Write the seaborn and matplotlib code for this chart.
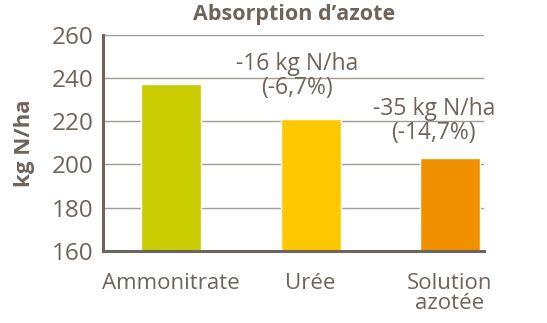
import matplotlib
matplotlib.use("Agg")
import matplotlib.pyplot as plt
import seaborn as sns
import pandas as pd

categories = ["Ammonitrate", "Urée", "Solution\nazotée"]
values = [237, 221, 203]
colors = ["#c8cc00", "#fec800", "#f29100"]
annotations = ["", "-16 kg N/ha\n(-6,7%)", "-35 kg N/ha\n(-14,7%)"]
yticks = [160, 180, 200, 220, 240, 260]

sns.set_theme(style="white")
plt.rcParams["font.family"] = ["Open Sans", "DejaVu Sans"]

txt = "#6e645b"
fig = plt.figure(figsize=(5.47, 3.23), dpi=100)
ax = fig.add_axes([0.1883, 0.2229, 0.6965, 0.6697])

df = pd.DataFrame({"cat": categories, "val": values})
sns.barplot(data=df, x="cat", y="val", hue="cat", palette=colors, legend=False,
            width=0.43, ax=ax, saturation=1)

ax.set_ylim(160, 260)
ax.set_xlim(-0.49, 2.245)
ax.set_yticks(yticks)
ax.set_yticklabels([str(t) for t in yticks], fontsize=17.5, color=txt)
ax.tick_params(axis="x", labelsize=16, colors=txt, length=0, pad=16)
ax.tick_params(axis="y", length=0, pad=7)
for lbl in ax.get_xticklabels():
    lbl.set_linespacing(0.9)
ax.yaxis.grid(True, color="#a39c95", linewidth=1.0)
ax.set_axisbelow(True)
for s in ["top", "right"]:
    ax.spines[s].set_visible(False)
for s in ["left", "bottom"]:
    ax.spines[s].set_color("#6e645b")
    ax.spines[s].set_linewidth(2.2)

ax.set_xlabel("")
ax.set_ylabel("kg N/ha", fontsize=16, fontweight="bold", color=txt, labelpad=12)

ann_x = [0, 0.9, 1.884]
ann_y = [0, 241, 220]
for i, a in enumerate(annotations):
    if a:
        ax.text(ann_x[i], ann_y[i], a, ha="center", va="center",
                fontsize=16.5, color=txt, linespacing=1.02)

fig.text(0.537, 0.955, "Absorption d’azote", ha="center", va="center",
         fontsize=15.5, fontweight="bold", color=txt)

fig.savefig("out.png", dpi=100)
